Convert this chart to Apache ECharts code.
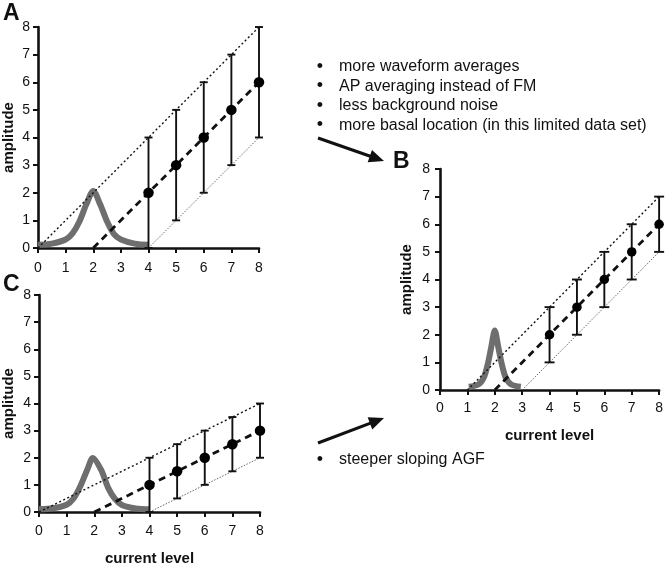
<!DOCTYPE html>
<html><head><meta charset="utf-8">
<script src="https://cdn.jsdelivr.net/npm/echarts@6/dist/echarts.min.js"></script>
<style>html,body{margin:0;padding:0;background:#fff}#c{width:666px;height:567px}</style>
</head><body><div id="c"></div>
<script>
// ---------- data ----------
const levels = [4, 5, 6, 7, 8];
const meanA = [2, 3, 4, 5, 6];
const lowA  = [0, 1, 2, 3, 4];
const highA = [4, 5, 6, 7, 8];
const meanB = [2, 3, 4, 5, 6];
const lowB  = [1, 2, 3, 4, 5];
const highB = [3, 4, 5, 6, 7];
const meanC = [1, 1.5, 2, 2.5, 3];
const lowC  = [0, 0.5, 1, 1.5, 2];
const highC = [2, 2.5, 3, 3.5, 4];
// guide lines (start / end points)
const upperA = [[0, 0], [8, 8]];
const fitA   = [[2, 0], [8, 6]];
const lowerA = [[4, 0], [8, 4]];
const upperB = [[1, 0], [8, 7]];
const fitB   = [[2, 0], [8, 6]];
const lowerB = [[3, 0], [8, 5]];
const upperC = [[0, 0], [8, 4]];
const fitC   = [[2, 0], [8, 3]];
const lowerC = [[4, 0], [8, 2]];
// threshold distribution curves
const curveAx = [0, 0.5, 1, 1.25, 1.5, 1.75, 2, 2.25, 2.5, 2.75, 3, 3.5, 4];
const curveAy = [0.12, 0.16, 0.31, 0.53, 0.96, 1.58, 2.06, 1.58, 0.96, 0.5, 0.31, 0.16, 0.12];
const curveBx = [1.05, 1.4, 1.6, 1.75, 1.875, 2, 2.125, 2.25, 2.4, 2.6, 2.95];
const curveBy = [0.12, 0.2, 0.45, 0.96, 1.57, 2.15, 1.57, 0.96, 0.45, 0.2, 0.12];
const curveCx = [0, 0.5, 1, 1.25, 1.5, 1.75, 1.95, 2.25, 2.5, 2.75, 3, 3.5, 4];
const curveCy = [0.1, 0.14, 0.27, 0.5, 0.96, 1.57, 1.99, 1.55, 0.9, 0.48, 0.26, 0.13, 0.1];
const axisTicks = [0, 1, 2, 3, 4, 5, 6, 7, 8];
const bulletsTop = ['more waveform averages', 'AP averaging instead of FM', 'less background noise', 'more basal location (in this limited data set)'];
const bulletsBottom = ['steeper sloping AGF'];
const panelLabels = ['A', 'B', 'C'];
const xName = 'current level';
const yName = 'amplitude';

// ---------- chart ----------
const FONT = '"Liberation Sans", Arial, sans-serif';
const chart = echarts.init(document.getElementById('c'));
const zip = (a, b) => a.map((v, i) => [v, b[i]]);

function xAxis(grid, showName, nameGap, labelMargin) {
  return {
    type: 'value', gridIndex: grid, min: axisTicks[0], max: axisTicks[axisTicks.length - 1], interval: 1,
    name: showName ? xName : '', nameLocation: 'middle', nameGap: nameGap,
    nameTextStyle: { fontFamily: FONT, fontWeight: 'bold', fontSize: 15, color: '#111' },
    axisLine: { lineStyle: { color: '#111', width: 2.6 } },
    axisTick: { length: 5, lineStyle: { color: '#111', width: 2 } },
    axisLabel: { fontFamily: FONT, fontSize: 14, color: '#111', margin: labelMargin, showMinLabel: true, showMaxLabel: true },
    splitLine: { show: false }
  };
}
function yAxis(grid, nameGap, labelMargin) {
  return {
    type: 'value', gridIndex: grid, min: axisTicks[0], max: axisTicks[axisTicks.length - 1], interval: 1,
    name: yName, nameLocation: 'middle', nameGap: nameGap, nameRotate: 90,
    nameTextStyle: { fontFamily: FONT, fontWeight: 'bold', fontSize: 15, color: '#111' },
    axisLine: { show: true, lineStyle: { color: '#111', width: 2.6 } },
    axisTick: { show: true, length: 5, lineStyle: { color: '#111', width: 2 } },
    axisLabel: { fontFamily: FONT, fontSize: 14, color: '#111', margin: labelMargin },
    splitLine: { show: false }
  };
}

function panelSeries(idx, cx, cy, upper, fit, lower, mean, low, high, dot, cap) {
  const base = { xAxisIndex: idx, yAxisIndex: idx, symbol: 'none', silent: true, animation: false };
  return [
    Object.assign({}, base, { type: 'line', smooth: 0.3, data: zip(cx, cy), lineStyle: { color: '#6e6e6e', width: 6 }, z: 2 }),
    Object.assign({}, base, { type: 'line', data: upper, lineStyle: { color: '#111', width: 1.4, type: [2, 2.5] }, z: 3 }),
    Object.assign({}, base, { type: 'line', data: lower, lineStyle: { color: '#555', width: 0.9, type: [1.5, 1.5] }, z: 3 }),
    Object.assign({}, base, { type: 'line', data: fit, lineStyle: { color: '#111', width: 2.8, type: [7, 5] }, z: 4 }),
    Object.assign({}, base, {
      type: 'custom', z: 5,
      data: levels.map((x, i) => [x, low[i], high[i]]),
      renderItem: function (params, api) {
        const lo = api.coord([api.value(0), api.value(1)]);
        const hi = api.coord([api.value(0), api.value(2)]);
        const st = { stroke: '#111', lineWidth: 1.9 };
        return { type: 'group', children: [
          { type: 'line', shape: { x1: lo[0], y1: lo[1], x2: hi[0], y2: hi[1] }, style: st },
          { type: 'line', shape: { x1: hi[0] - cap, y1: hi[1], x2: hi[0] + cap, y2: hi[1] }, style: st },
          { type: 'line', shape: { x1: lo[0] - cap, y1: lo[1], x2: lo[0] + cap, y2: lo[1] }, style: st }
        ] };
      }
    }),
    Object.assign({}, base, { type: 'scatter', symbol: 'circle', symbolSize: dot, data: zip(levels, mean), itemStyle: { color: '#000', opacity: 1 }, z: 6 })
  ];
}

function arrow(x1, y1, x2, y2) {
  const a = Math.atan2(y2 - y1, x2 - x1), L = 15, W = 6.5;
  const bx = x2 - L * Math.cos(a), by = y2 - L * Math.sin(a);
  const px = -Math.sin(a), py = Math.cos(a);
  return [
    { type: 'line', shape: { x1: x1, y1: y1, x2: bx + 2 * Math.cos(a), y2: by + 2 * Math.sin(a) }, style: { stroke: '#111', lineWidth: 3 } },
    { type: 'polygon', shape: { points: [[x2, y2], [bx + W * px, by + W * py], [bx - W * px, by - W * py]] }, style: { fill: '#111' } }
  ];
}

const graphics = [];
const panelPos = [[3, 2], [393, 150], [3, 273]];
panelLabels.forEach((t, i) => graphics.push({ type: 'text', x: panelPos[i][0], y: panelPos[i][1],
  style: { text: t, font: 'bold 23px ' + FONT, fill: '#111' } }));
const topY = [67, 86.5, 106, 125.5];
bulletsTop.forEach((t, i) => {
  graphics.push({ type: 'text', x: 320, y: topY[i], style: { text: '•', font: '18px ' + FONT, fill: '#111', align: 'center', verticalAlign: 'middle' } });
  graphics.push({ type: 'text', x: 339, y: topY[i], style: { text: t, font: '16px ' + FONT, fill: '#111', verticalAlign: 'middle' } });
});
bulletsBottom.forEach((t, i) => {
  graphics.push({ type: 'text', x: 320, y: 460 + i * 19.5, style: { text: '•', font: '18px ' + FONT, fill: '#111', align: 'center', verticalAlign: 'middle' } });
  graphics.push({ type: 'text', x: 339, y: 460 + i * 19.5, style: { text: t, font: '16px ' + FONT, fill: '#111', verticalAlign: 'middle' } });
});
graphics.push(...arrow(318, 138, 384, 161));
graphics.push(...arrow(318, 443, 384, 418));

chart.setOption({
  backgroundColor: '#fff',
  animation: false,
  grid: [
    { left: 37, top: 27, width: 222, height: 221 },
    { left: 440, top: 169, width: 220, height: 221 },
    { left: 38, top: 295, width: 222, height: 222 }
  ],
  xAxis: [xAxis(0, false, 40, 13), xAxis(1, true, 38, 11), xAxis(2, true, 39, 12)],
  yAxis: [yAxis(0, 22, 8), yAxis(1, 26, 10), yAxis(2, 23, 8)],
  series: [].concat(
    panelSeries(0, curveAx, curveAy, upperA, fitA, lowerA, meanA, lowA, highA, 10.5, 4),
    panelSeries(1, curveBx, curveBy, upperB, fitB, lowerB, meanB, lowB, highB, 9.5, 5),
    panelSeries(2, curveCx, curveCy, upperC, fitC, lowerC, meanC, lowC, highC, 10.5, 4)
  ),
  graphic: graphics
});
</script></body></html>
